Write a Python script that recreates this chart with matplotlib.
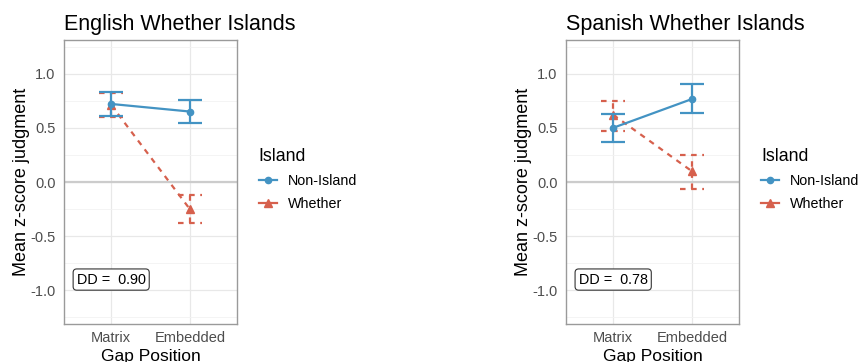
import matplotlib.pyplot as plt
from matplotlib.lines import Line2D

plt.rcParams['font.family'] = ['Liberation Sans', 'DejaVu Sans']

# data
positions = ['Matrix', 'Embedded']
titles = ['English Whether Islands', 'Spanish Whether Islands']
dd_labels = ['DD =  0.90', 'DD =  0.78']

eng_nonisland = [0.72, 0.65]
eng_nonisland_lo = [0.61, 0.54]
eng_nonisland_hi = [0.83, 0.76]
eng_whether = [0.71, -0.25]
eng_whether_lo = [0.60, -0.38]
eng_whether_hi = [0.82, -0.12]

spa_nonisland = [0.50, 0.765]
spa_nonisland_lo = [0.373, 0.633]
spa_nonisland_hi = [0.627, 0.90]
spa_whether = [0.62, 0.10]
spa_whether_lo = [0.475, -0.06]
spa_whether_hi = [0.75, 0.25]

blue = '#4393C3'
red = '#D6604D'
dash = (0, (2.5, 2.5))

panels = [
    (eng_nonisland, eng_nonisland_lo, eng_nonisland_hi, eng_whether, eng_whether_lo, eng_whether_hi),
    (spa_nonisland, spa_nonisland_lo, spa_nonisland_hi, spa_whether, spa_whether_lo, spa_whether_hi),
]

fig = plt.figure(figsize=(8.63, 3.62), dpi=100)
lefts = [64 / 863, 566 / 863]
legend_x = [246 / 863, 748 / 863]

x = [1, 2]
cap = 0.15


def draw_errbars(ax, lo, hi, color, ls, z):
    ax.vlines(x, lo, hi, color=color, lw=1.6, linestyles=[ls], zorder=z)
    ax.hlines(lo, [v - cap for v in x], [v + cap for v in x], color=color, lw=1.6, linestyles=[ls], zorder=z)
    ax.hlines(hi, [v - cap for v in x], [v + cap for v in x], color=color, lw=1.6, linestyles=[ls], zorder=z)


for i, (ni, ni_lo, ni_hi, wh, wh_lo, wh_hi) in enumerate(panels):
    ax = fig.add_axes([lefts[i], 38 / 362, 173 / 863, 284 / 362])
    ax.set_xlim(0.4, 2.6)
    ax.set_ylim(-1.31, 1.31)
    ax.set_yticks([-1.0, -0.5, 0.0, 0.5, 1.0])
    ax.set_yticks([-1.25, -0.75, -0.25, 0.25, 0.75, 1.25], minor=True)
    ax.set_yticklabels(['-1.0', '-0.5', '0.0', '0.5', '1.0'])
    ax.set_xticks(x)
    ax.set_xticklabels(positions)
    ax.grid(True, which='major', color='#E8E8E8', lw=0.9)
    ax.grid(True, which='minor', axis='y', color='#F2F2F2', lw=0.6)
    ax.set_axisbelow(True)
    ax.axhline(0, color='#CCCCCC', lw=1.6, zorder=1)
    for s in ax.spines.values():
        s.set_color('#9A9A9A')
        s.set_linewidth(1.0)
    ax.tick_params(which='both', length=0, pad=5, labelsize=10.5, labelcolor='#4D4D4D')
    ax.tick_params(axis='y', pad=6)

    # Whether (dashed, red)
    ax.plot(x, wh, color=red, lw=1.6, linestyle=dash, zorder=3)
    ax.plot(x, wh, color=red, lw=0, marker='^', ms=5.5, zorder=3)
    draw_errbars(ax, wh_lo, wh_hi, red, dash, 3)
    # Non-Island (solid, blue)
    ax.plot(x, ni, color=blue, lw=1.6, marker='o', ms=4.5, zorder=4)
    draw_errbars(ax, ni_lo, ni_hi, blue, 'solid', 4)

    ax.text(1, -0.9, dd_labels[i], ha='center', va='center', fontsize=10.4,
            bbox=dict(boxstyle='round,pad=0.25,rounding_size=0.25', fc='white', ec='#333333', lw=0.8))

    ax.set_title(titles[i], loc='left', fontsize=15.5, pad=7, x=0.0)
    ax.set_ylabel('Mean z-score judgment', fontsize=13, labelpad=0.5)
    ax.set_xlabel('Gap Position', fontsize=12.5, labelpad=3)

    handles = [Line2D([], [], color=blue, lw=1.6, marker='o', ms=4.5),
               Line2D([], [], color=red, lw=1.6, marker='^', ms=5.5)]
    fig.legend(handles, ['Non-Island', 'Whether'], title='Island', loc='upper left',
               bbox_to_anchor=(legend_x[i], 0.627), frameon=False, fontsize=10.3,
               title_fontsize=12.8, alignment='left', handlelength=1.3, handletextpad=0.7,
               labelspacing=0.65)

fig.savefig('out.png', dpi=100)
